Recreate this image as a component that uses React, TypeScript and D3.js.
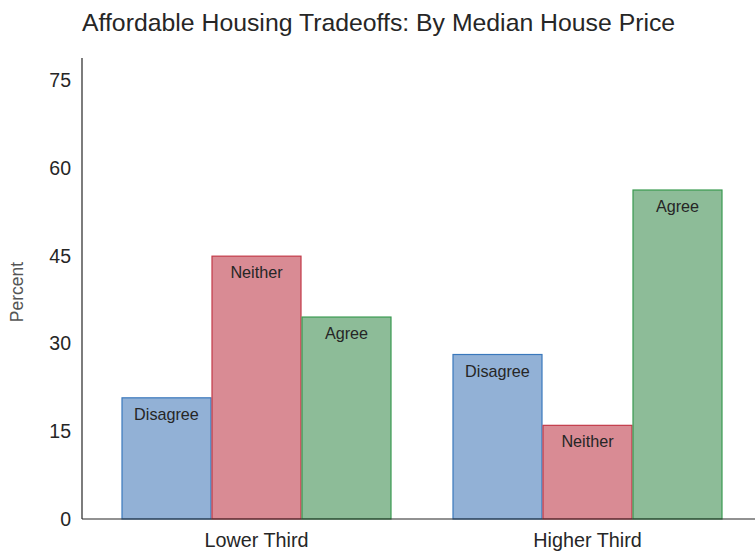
import React from "react";
import * as d3 from "d3";

const categories = ["Lower Third", "Higher Third"];
const responses = ["Disagree", "Neither", "Agree"];
const disagreeValues = [20.7, 28.1];
const neitherValues = [44.9, 16.0];
const agreeValues = [34.5, 56.2];
const yTicks = [0, 15, 30, 45, 60, 75];

const fills: Record<string, string> = { Disagree: "#92b1d6", Neither: "#d98b94", Agree: "#8dbc98" };
const strokes: Record<string, string> = { Disagree: "#3a78bc", Neither: "#c23a48", Agree: "#3a9a50" };

const W = 755;
const H = 552;
const FONT = "'Liberation Sans', Arial, sans-serif";

export default function App() {
  const valuesBy: Record<string, number[]> = {
    Disagree: disagreeValues,
    Neither: neitherValues,
    Agree: agreeValues,
  };
  const y = d3.scaleLinear().domain([0, 78.75]).range([519, 58]);
  const x = d3.scaleBand().domain(categories).range([91, 753]).padding(0);
  const inner = d3.scaleBand().domain(responses).range([0, 270]);
  const xOffset = (x.bandwidth() - 270) / 2;

  return (
    <svg width={W} height={H} style={{ position: "absolute", left: 0, top: 0 }}>
      <rect width={W} height={H} fill="#ffffff" />
      <text x={82} y={31} fontFamily={FONT} fontSize={24.8} fill="#262626">
        Affordable Housing Tradeoffs: By Median House Price
      </text>
      {categories.map((c, ci) => (
        <g key={c}>
          {responses.map((r) => {
            const v = valuesBy[r][ci];
            const bx = (x(c) as number) + xOffset + (inner(r) as number);
            const by = y(v);
            return (
              <g key={r}>
                <rect
                  x={bx + 0.5}
                  y={by}
                  width={inner.bandwidth() - 1}
                  height={y(0) - by}
                  fill={fills[r]}
                  stroke={strokes[r]}
                  strokeWidth={1.2}
                />
                <text
                  x={bx + inner.bandwidth() / 2}
                  y={by + 22}
                  textAnchor="middle"
                  fontFamily={FONT}
                  fontSize={16.2}
                  fill="#262626"
                >
                  {r}
                </text>
              </g>
            );
          })}
          <text
            x={(x(c) as number) + x.bandwidth() / 2}
            y={547}
            textAnchor="middle"
            fontFamily={FONT}
            fontSize={19.8}
            fill="#262626"
          >
            {c}
          </text>
        </g>
      ))}
      <line x1={82} x2={82} y1={58} y2={519} stroke="#262626" strokeWidth={1.2} />
      <line x1={82} x2={755} y1={519} y2={519} stroke="#262626" strokeWidth={1.2} />
      {yTicks.map((t) => (
        <text
          key={t}
          x={71}
          y={y(t) + 7}
          textAnchor="end"
          fontFamily={FONT}
          fontSize={19.5}
          fill="#262626"
        >
          {t}
        </text>
      ))}
      <text
        transform={`translate(23,292) rotate(-90)`}
        textAnchor="middle"
        fontFamily={FONT}
        fontSize={17.5}
        fill="#555555"
      >
        Percent
      </text>
    </svg>
  );
}
